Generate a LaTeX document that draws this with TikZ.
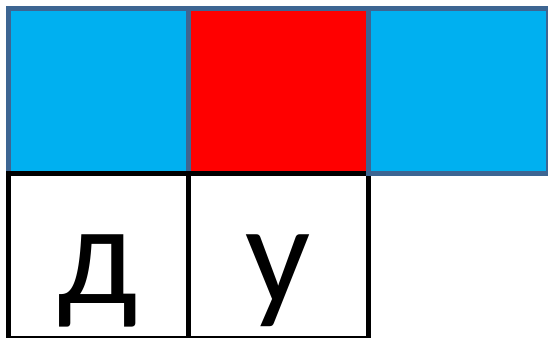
\documentclass[tikz,border=0pt]{standalone}
\usepackage{fontspec}
\setmainfont{Carlito}
\definecolor{skyblue}{HTML}{00B0F0}
\definecolor{frameblue}{HTML}{3D6592}
\begin{document}
\begin{tikzpicture}[x=1pt,y=-1pt,
  cell/.style={rectangle,line width=5pt,inner sep=0pt,outer sep=0pt,anchor=north west},
  topcell/.style={cell,draw=frameblue,minimum width=180pt,minimum height=164.5pt},
  lowcell/.style={cell,draw=black,fill=white,minimum width=180pt,minimum height=165pt},
  letter/.style={anchor=base,inner sep=0pt,font=\fontsize{144}{144}\selectfont}]
\useasboundingbox (0,0) rectangle (548,337);
\fill[white] (0,0) rectangle (548,337);
\node[topcell,fill=skyblue] (t1) at (8,8.5) {};
\node[topcell,fill=red] (t2) at (188,8.5) {};
\node[lowcell] (b1) at (8,173) {};
\node[lowcell] (b2) at (188,173) {};
\node[topcell,fill=skyblue] (t3) at (368,8.5) {};
\node[letter] (l1) at (98,303) {д};
\node[letter] (l2) at (278,303) {у};
\end{tikzpicture}
\end{document}
